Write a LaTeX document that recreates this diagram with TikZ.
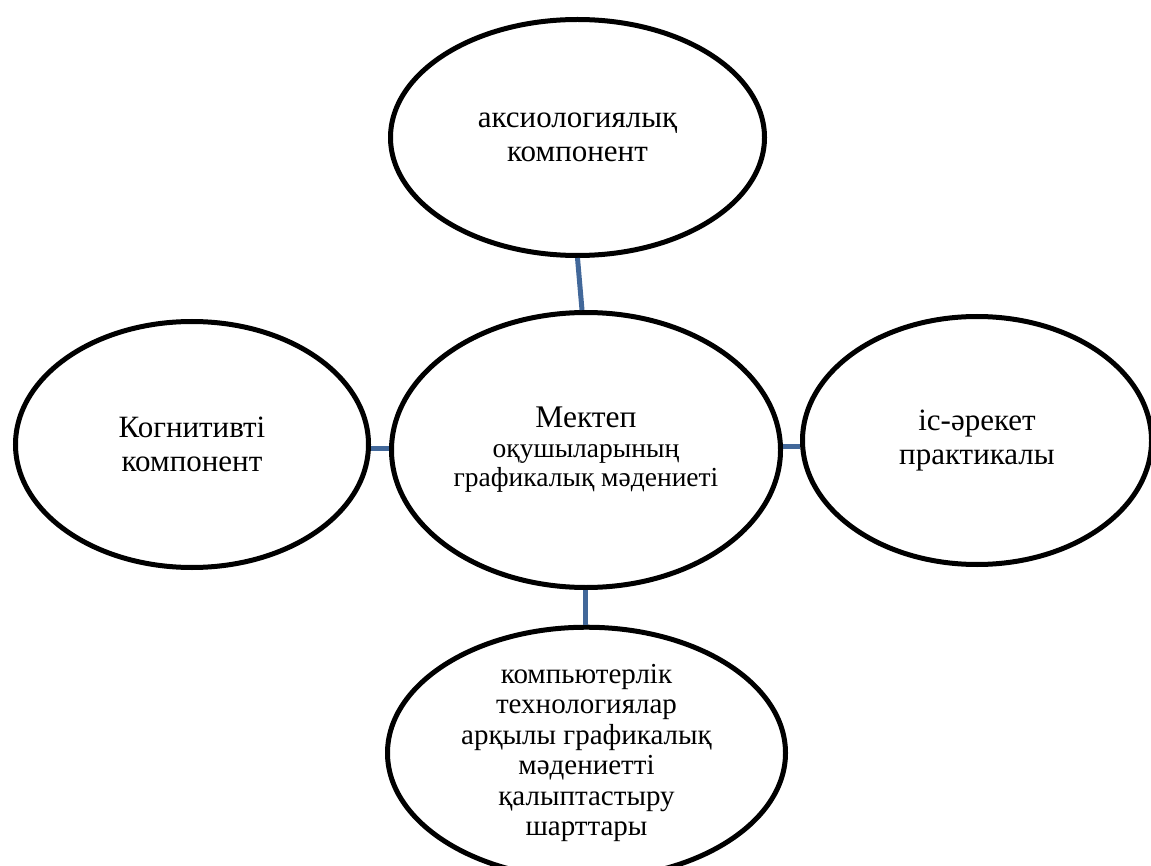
\documentclass[tikz,border=0pt]{standalone}
\usepackage{fontspec}
\setmainfont{Liberation Serif}
\usetikzlibrary{shapes.geometric}
\definecolor{connblue}{RGB}{66,104,154}
\begin{document}
\begin{tikzpicture}[x=1pt,y=-1pt,
  oval/.style={draw=black, line width=5pt, ellipse, inner sep=0pt, align=center, fill=white},
  conn/.style={draw=connblue, line width=5pt},
  bigtext/.style={font=\fontsize{31}{34}\selectfont}]
\clip (0,0) rectangle (1151,866);
\fill[white] (0,0) rectangle (1151,866);
\node[oval, bigtext, minimum width=374pt, minimum height=236pt] (top) at (577.5,137.5) {аксиологиялық\\компонент};
\node[oval, font=\fontsize{27.5}{29.5}\selectfont, minimum width=389pt, minimum height=275pt] (mid) at (586,450) {{\fontsize{31.5}{31}\selectfont Мектеп}\\оқушыларының\\графикалық мәдениеті};
\node[oval, bigtext, minimum width=353pt, minimum height=246pt] (left) at (192,444.5) {Когнитивті\\компонент};
\node[oval, bigtext, minimum width=349pt, minimum height=248pt] (right) at (977,440.5) {іс-әрекет\\практикалы};
\node[oval, font=\fontsize{29}{30.5}\selectfont, minimum width=398pt, minimum height=221pt] (bot) at (586.5,753) {компьютерлік\\технологиялар\\арқылы графикалық\\мәдениетті\\қалыптастыру\\шарттары};
\draw[conn] (top.south) -- ([xshift=-4pt]mid.north);
\draw[conn] ([yshift=-3.5pt]left.east) -- ([yshift=2pt]mid.west);
\draw[conn] ([yshift=4pt]mid.east) -- ([yshift=-5.5pt]right.west);
\draw[conn] ([xshift=-1pt]mid.south) -- ([xshift=-1.5pt]bot.north);
\end{tikzpicture}
\end{document}
